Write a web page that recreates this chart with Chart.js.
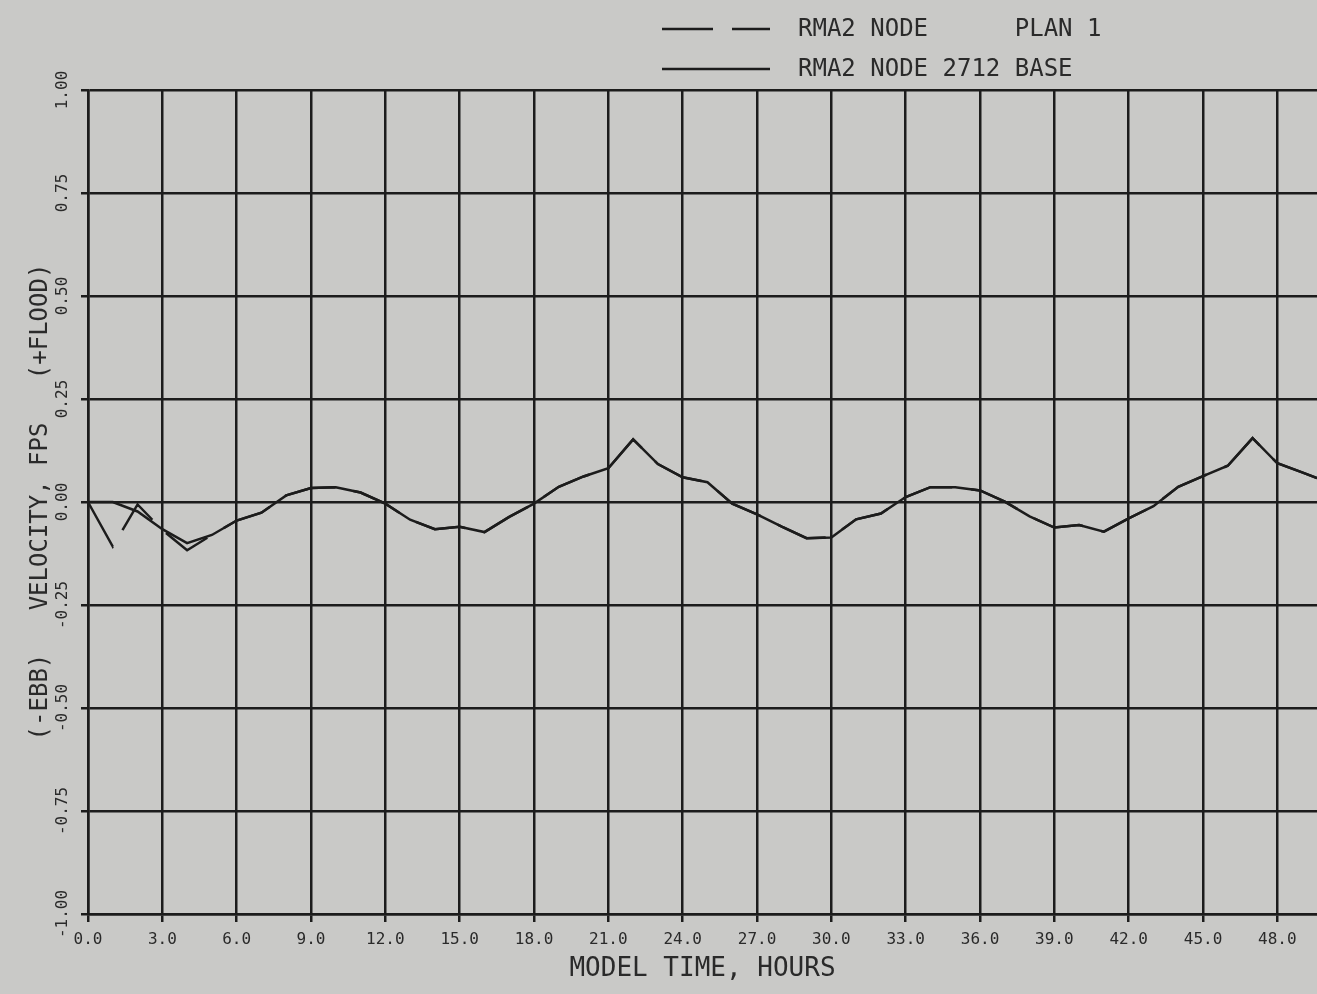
<!DOCTYPE html>
<html>
<head>
<meta charset="utf-8">
<script src="https://cdn.jsdelivr.net/npm/chart.js@4.4.1/dist/chart.umd.min.js"></script>
<style>
  html, body { margin: 0; padding: 0; background: #c9c9c7; }
  #wrap { width: 1317px; height: 994px; }
</style>
</head>
<body>
<div id="wrap"><canvas id="c" width="1317" height="994"></canvas></div>
<script>
// ---- data ----
const hours = [0,1,2,3,4,5,6,7,8,9,10,11,12,13,14,15,16,17,18,19,20,21,22,23,24,25,26,27,28,29,30,31,32,33,34,35,36,37,38,39,40,41,42,43,44,45,46,47,48,49,49.6];
const planValues = [0,-0.108,-0.006,-0.068,-0.117,-0.08,-0.045,-0.026,0.016,0.034,0.036,0.023,-0.004,-0.043,-0.066,-0.06,-0.073,-0.036,-0.004,0.037,0.062,0.082,0.152,0.092,0.06,0.048,-0.004,-0.03,-0.06,-0.088,-0.086,-0.042,-0.028,0.012,0.036,0.036,0.028,0.001,-0.035,-0.062,-0.056,-0.072,-0.04,-0.01,0.037,0.063,0.088,0.155,0.094,0.072,0.058];
const baseValues = [0,0,-0.023,-0.066,-0.1,-0.08,-0.045,-0.026,0.016,0.034,0.036,0.023,-0.004,-0.043,-0.066,-0.06,-0.073,-0.036,-0.004,0.037,0.062,0.082,0.152,0.092,0.06,0.048,-0.004,-0.03,-0.06,-0.088,-0.086,-0.042,-0.028,0.012,0.036,0.036,0.028,0.001,-0.035,-0.062,-0.056,-0.072,-0.04,-0.01,0.037,0.063,0.088,0.155,0.094,0.072,0.058];
const xTickValues = [0,3,6,9,12,15,18,21,24,27,30,33,36,39,42,45,48];
const yTickValues = [-1,-0.75,-0.5,-0.25,0,0.25,0.5,0.75,1];
const seriesLabels = ['RMA2 NODE      PLAN 1', 'RMA2 NODE 2712 BASE'];
const xTitle = 'MODEL TIME, HOURS';
const yTitle = '(-EBB)   VELOCITY, FPS   (+FLOOD)';

// ---- styling ----
const FONT = '"DejaVu Sans Mono", "Liberation Mono", monospace';
const INK = '#1c1c1c';
const TEXT = '#2a2a2a';
const BG = '#c9c9c7';

const bgPlugin = {
  id: 'bg',
  beforeDraw(chart) {
    const ctx = chart.ctx;
    ctx.save();
    ctx.fillStyle = BG;
    ctx.fillRect(0, 0, chart.width, chart.height);
    ctx.restore();
  }
};

const legendRows = [29, 69];
const legendPlugin = {
  id: 'plotLegend',
  afterDraw(chart) {
    const ctx = chart.ctx;
    chart.data.datasets.forEach((ds, i) => {
      const y = legendRows[i];
      ctx.save();
      ctx.strokeStyle = ds.borderColor;
      ctx.lineWidth = ds.borderWidth;
      ctx.setLineDash(ds.borderDash || []);
      ctx.beginPath();
      ctx.moveTo(662, y);
      ctx.lineTo(770, y);
      ctx.stroke();
      ctx.setLineDash([]);
      ctx.fillStyle = TEXT;
      ctx.font = '24px ' + FONT;
      ctx.textBaseline = 'middle';
      ctx.textAlign = 'left';
      ctx.fillText(ds.label, 798, y + 1);
      ctx.restore();
    });
  }
};

const toPoints = (xs, ys) => xs.map((x, i) => ({ x: x, y: ys[i] }));

new Chart(document.getElementById('c'), {
  type: 'line',
  data: {
    datasets: [
      {
        label: seriesLabels[0],
        data: toPoints(hours, planValues),
        borderColor: INK,
        borderWidth: 2.5,
        borderDash: [51, 19],
        pointRadius: 0,
        tension: 0,
        fill: false
      },
      {
        label: seriesLabels[1],
        data: toPoints(hours, baseValues),
        borderColor: INK,
        borderWidth: 2.5,
        pointRadius: 0,
        tension: 0,
        fill: false
      }
    ]
  },
  options: {
    responsive: false,
    animation: false,
    devicePixelRatio: 1,
    layout: { padding: { top: 90, left: 0, right: 0, bottom: 0 } },
    plugins: {
      legend: { display: false },
      tooltip: { enabled: false },
      title: { display: false }
    },
    scales: {
      x: {
        type: 'linear',
        min: 0,
        max: 49.6,
        afterBuildTicks: s => { s.ticks = xTickValues.map(v => ({ value: v })); },
        afterFit: s => { s.height = 80; },
        grid: { color: INK, lineWidth: 2.5, tickLength: 8, drawTicks: true },
        border: { display: true, color: INK, width: 2.5 },
        ticks: {
          minRotation: 0, maxRotation: 0, padding: 8,
          color: TEXT,
          font: { family: FONT, size: 16 },
          callback: v => Number(v).toFixed(1)
        },
        title: {
          display: true, text: xTitle, color: TEXT,
          font: { family: FONT, size: 26 },
          padding: { top: 0, bottom: 9 }
        }
      },
      y: {
        type: 'linear',
        min: -1,
        max: 1,
        afterBuildTicks: s => { s.ticks = yTickValues.map(v => ({ value: v })); },
        afterFit: s => { s.width = 88; },
        grid: { color: INK, lineWidth: 2.5, tickLength: 7, drawTicks: true },
        border: { display: true, color: INK, width: 2.5 },
        ticks: {
          minRotation: 90, maxRotation: 90, crossAlign: 'center', padding: -6,
          color: TEXT,
          font: { family: FONT, size: 16 },
          callback: v => Number(v).toFixed(2)
        },
        title: {
          display: true, text: yTitle, color: TEXT,
          font: { family: FONT, size: 24 },
          padding: { top: 26, bottom: 0 }
        }
      }
    }
  },
  plugins: [bgPlugin, legendPlugin]
});
</script>
</body>
</html>
